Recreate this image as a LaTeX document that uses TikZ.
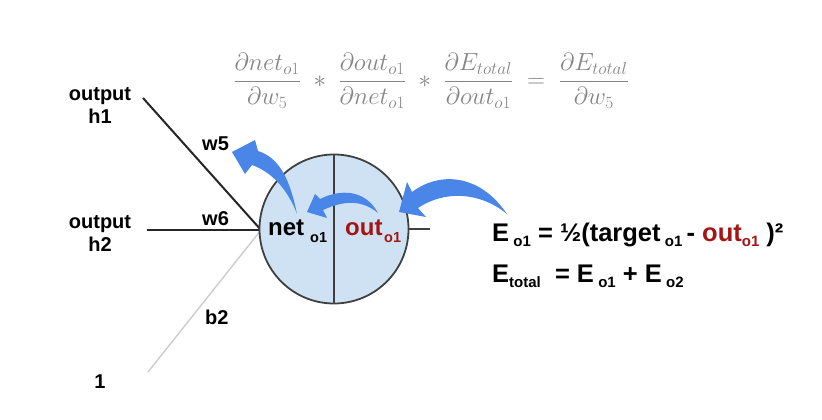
\documentclass[tikz,border=0pt]{standalone}
\usepackage{fontspec}
\setmainfont{Liberation Sans}
\usepackage{amsmath}
\definecolor{arrowblue}{HTML}{4A86E8}
\definecolor{cellfill}{HTML}{CFE2F3}
\definecolor{rimgray}{HTML}{404040}
\definecolor{outred}{HTML}{A31515}
\definecolor{formgray}{HTML}{858585}
\definecolor{biasgray}{HTML}{CCCCCC}
\newcommand\sbs[1]{{\fontsize{15}{15}\selectfont\raisebox{-5.5pt}{#1}}}
\tikzset{
  lbl/.style={font=\fontsize{20}{23}\selectfont\bfseries, inner sep=0pt, align=center},
  eqn/.style={font=\fontsize{25.5}{28}\selectfont\bfseries, inner sep=0pt, anchor=base west},
  cellname/.style={font=\fontsize{24}{28}\selectfont\bfseries, inner sep=0pt, anchor=base west},
  cellsub/.style={font=\fontsize{14.5}{16}\selectfont\bfseries, inner sep=0pt, anchor=base west},
  swoosh/.style={fill=arrowblue, draw=none},
}
\begin{document}
\begin{tikzpicture}[x=1pt,y=-1pt]
\useasboundingbox (0,0) rectangle (822,420);
% formula
\node[text=formgray, inner sep=0pt, font=\fontsize{26}{30}\selectfont] (formula) at (431,81)
 {$\displaystyle \frac{\partial net_{o1}}{\partial w_5} \;*\; \frac{\partial out_{o1}}{\partial net_{o1}} \;*\; \frac{\partial E_{total}}{\partial out_{o1}} \;=\; \frac{\partial E_{total}}{\partial w_5}$};
% input labels
\node[lbl] (h1) at (100,105) {output\\h1};
\node[lbl] (h2) at (100,233) {output\\h2};
\node[lbl, anchor=base] (one) at (100,388) {1};
\coordinate (h1end) at (143,98);
\coordinate (h2end) at (147,230);
\coordinate (oneend) at (148,372);
\coordinate (join) at (261,230);
\coordinate (rstub) at (430,229);
% connectors
\draw[line width=1.4pt, biasgray] (oneend) -- (join);
\draw[line width=2pt, black!85] (h1end) -- (join);
\draw[line width=2.2pt, black!85] (h2end) -- (join);
% neuron
\node[circle, draw=rimgray, line width=1.8pt, fill=cellfill, minimum size=149pt, inner sep=0pt] (cell) at (334,229) {};
\draw[line width=1.8pt, rimgray] (cell.north) -- (cell.south);
\draw[line width=1.8pt, rimgray] (cell.east) -- (rstub);
% weight labels
\node[lbl, anchor=base west] (w5) at (202,150) {w5};
\node[lbl, anchor=base west] (w6) at (202,225) {w6};
\node[lbl, anchor=base west] (b2) at (205,324) {b2};
% cell texts
\node[cellname] (net) at (268,235) {net};
\node[cellsub] (netsub) at (310,242) {o1};
\node[cellname, text=outred] (out) at (345,235) {out};
\node[cellsub, text=outred] (outsub) at (384,242) {o1};
% blue arrows
\path[swoosh] (297,214) .. controls (290,180) and (280,158) .. (258,151)
  -- (255,140) -- (232,152) -- (245,174) -- (252,165)
  .. controls (272,172) and (288,190) .. (297,214) -- cycle;
\path[swoosh] (378,213) .. controls (365,189) and (340,189) .. (320,199)
  -- (315,194) -- (307,212) -- (327,218) -- (323,210)
  .. controls (345,200) and (362,200) .. (378,213) -- cycle;
\path[swoosh] (507,214) .. controls (480,174) and (440,171) .. (412,192)
  -- (407,182) -- (399,212) -- (426,217) -- (418,208)
  .. controls (445,190) and (480,192) .. (507,214) -- cycle;
% equations
\node[eqn] (eq1) at (492,241) {E\,\sbs{o1} = ½(target\,\sbs{o1}\,- {\color{outred}out\sbs{o1}} )²};
\node[eqn] (eq2) at (492,282) {E\sbs{total} \;= E\,\sbs{o1} + E\,\sbs{o2}};
\end{tikzpicture}
\end{document}
